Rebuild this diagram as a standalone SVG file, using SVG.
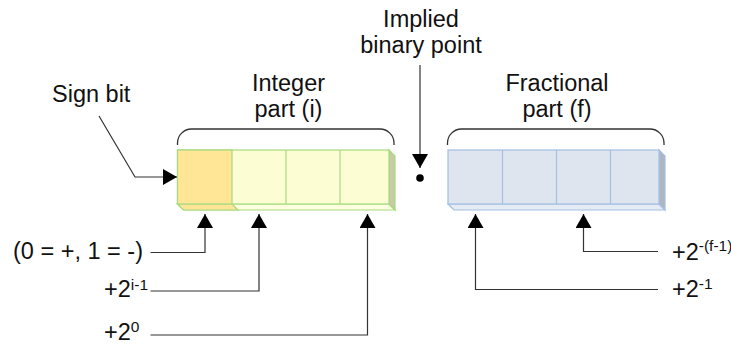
<svg xmlns="http://www.w3.org/2000/svg" width="731" height="345" viewBox="0 0 731 345">
<style>
  text { font-family: "Liberation Sans", Arial, sans-serif; font-size: 23.5px; fill: #111; }
  .sup { font-size: 15.5px; }
  .conn { fill: none; stroke: #333; stroke-width: 1.2; }
  .brace { fill: none; stroke: #333; stroke-width: 1.3; }
  .intcell { fill: #FDFDD3; stroke: #A6DA80; stroke-width: 1.2; }
  .signcell { fill: #FFE596; stroke: #A6DA80; stroke-width: 1.2; }
  .intside { fill: #C9CAA6; stroke: #A6DA80; stroke-width: 1.2; }
  .intbottom { fill: #FDFEE0; stroke: #A6DA80; stroke-width: 1.2; }
  .fraccell { fill: #DEE5EF; stroke: #A3BFE3; stroke-width: 1.2; }
  .fracside { fill: #AEB6C2; stroke: #A3BFE3; stroke-width: 1.2; }
  .fracbottom { fill: #E5EBF3; stroke: #A3BFE3; stroke-width: 1.2; }
</style>
<defs>
  <marker id="arr" viewBox="0 0 14 16" refX="14" refY="8" markerWidth="14" markerHeight="16" markerUnits="userSpaceOnUse" orient="auto">
    <path d="M0,0 L14,8 L0,16 Z" fill="#000"/>
  </marker>
</defs>

<g id="integer-part">
  <polygon class="intbottom" points="177.5,204 389,204 395,210 183.5,210"/>
  <polygon class="intside" points="389,150 395,156 395,210 389,204"/>
  <rect class="intcell" x="177.5" y="150" width="211.5" height="54"/>
  <polygon class="signcell" points="177.5,204 232,204 238,210 183.5,210"/>
  <rect class="signcell" x="177.5" y="150" width="54.5" height="54"/>
  <line class="intcell" x1="286" y1="150" x2="286" y2="204"/>
  <line class="intcell" x1="340" y1="150" x2="340" y2="204"/>
</g>

<g id="fractional-part">
  <polygon class="fracbottom" points="448,204 659,204 665,210 454,210"/>
  <polygon class="fracside" points="659,150 665,156 665,210 659,204"/>
  <rect class="fraccell" x="448" y="150" width="211" height="54"/>
  <line class="fraccell" x1="502.5" y1="150" x2="502.5" y2="204"/>
  <line class="fraccell" x1="556.5" y1="150" x2="556.5" y2="204"/>
  <line class="fraccell" x1="610.5" y1="150" x2="610.5" y2="204"/>
</g>

<g id="integer-brace">
  <path class="brace" d="M177.5,145 V143 A14,14 0 0 1 191.5,129 H380 A14,14 0 0 1 394,143 V145"/>
  <text x="288.5" y="91" text-anchor="middle">Integer</text>
  <text x="288.5" y="117" text-anchor="middle">part (i)</text>
</g>

<g id="fractional-brace">
  <path class="brace" d="M447.5,145 V143 A14,14 0 0 1 461.5,129 H650 A14,14 0 0 1 664,143 V145"/>
  <text x="557" y="91" text-anchor="middle">Fractional</text>
  <text x="557" y="117" text-anchor="middle">part (f)</text>
</g>

<g id="binary-point">
  <text x="421" y="27" text-anchor="middle">Implied</text>
  <text x="421" y="53" text-anchor="middle">binary point</text>
  <circle cx="420" cy="178" r="3.8" fill="#000"/>
</g>

<g id="sign-bit-label">
  <text x="52" y="101.5">Sign bit</text>
</g>

<g id="labels">
  <text x="13" y="259">(0 = +, 1 = -)</text>
  <text x="104" y="297">+2<tspan class="sup" dy="-7">i-1</tspan></text>
  <text x="104" y="340">+2<tspan class="sup" dy="-8">0</tspan></text>
  <text x="672" y="260">+2<tspan class="sup" dy="-9">-(f-1)</tspan></text>
  <text x="672" y="297">+2<tspan class="sup" dy="-8">-1</tspan></text>
</g>

<g id="connectors">
  <path class="conn" marker-end="url(#arr)" d="M99,116 L135,177 H177"/>
  <path class="conn" marker-end="url(#arr)" d="M420,65 V168"/>
  <path class="conn" marker-end="url(#arr)" d="M150.5,252.5 H205 V214"/>
  <path class="conn" marker-end="url(#arr)" d="M150.5,291 H259 V214"/>
  <path class="conn" marker-end="url(#arr)" d="M150.5,335 H367.5 V214"/>
  <path class="conn" marker-end="url(#arr)" d="M658,289.5 H475.5 V214"/>
  <path class="conn" marker-end="url(#arr)" d="M658,251.5 H583.5 V214"/>
</g>
</svg>
